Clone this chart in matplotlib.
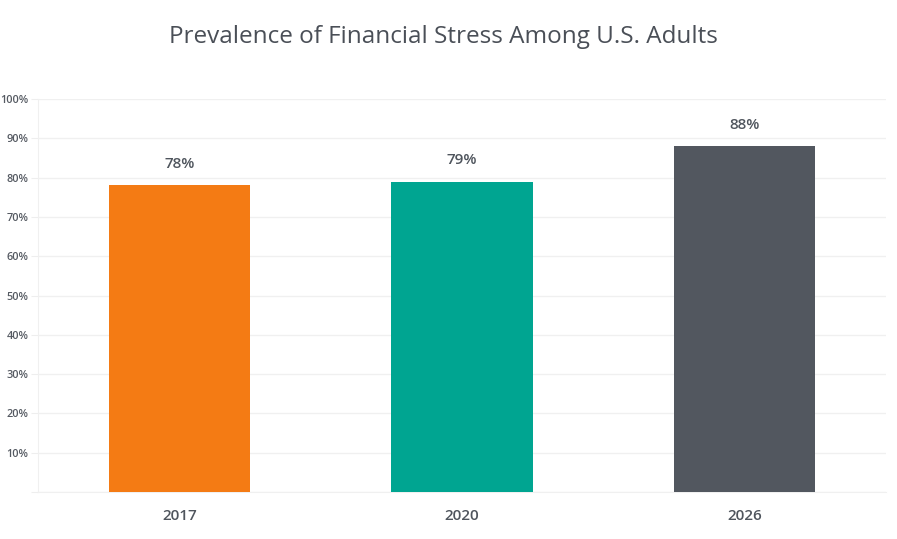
import matplotlib
matplotlib.use("Agg")
import matplotlib.pyplot as plt

years = ["2017", "2020", "2026"]
values = [78, 79, 88]
colors = ["#F47B14", "#00A591", "#52575F"]
yticks = [10, 20, 30, 40, 50, 60, 70, 80, 90, 100]
ytick_labels = [f"{v}%" for v in yticks]
title = "Prevalence of Financial Stress Among U.S. Adults"

plt.rcParams['font.family'] = ['Open Sans', 'DejaVu Sans']

fig = plt.figure(figsize=(8.97, 5.39), dpi=100)
ax = fig.add_axes([38/897, 1 - 492/539, (886-38)/897, (492-99)/539])

x = range(len(years))
ax.bar(x, values, width=0.5, color=colors, zorder=3)
for xi, v in zip(x, values):
    ax.text(xi, v + 3.6, f"{v}%", ha="center", va="bottom", fontsize=11,
            color="#4f555d", fontweight="semibold")

ax.set_xlim(-0.5, 2.5)
ax.set_ylim(0, 100)
ax.set_yticks([0] + yticks)
ax.set_yticklabels([""] + ytick_labels, fontsize=7.8, color="#555a62", fontweight="semibold")
ax.set_xticks(list(x))
ax.set_xticklabels(years, fontsize=11, color="#4f555d", fontweight="semibold")
ax.tick_params(axis="x", length=0, pad=12)
ax.tick_params(axis="y", length=5, color="#eeeeee", pad=2)
ax.grid(axis="y", color="#f0f0f0", linewidth=1, zorder=0)
for s in ["top", "right"]:
    ax.spines[s].set_visible(False)
ax.spines["left"].set_color("#f0f0f0")
ax.spines["bottom"].set_color("#f0f0f0")

fig.text(443/897, 1 - 37/539, title, ha="center", va="center", fontsize=17.5, color="#4a4f57")

fig.savefig("out.png", dpi=100)
